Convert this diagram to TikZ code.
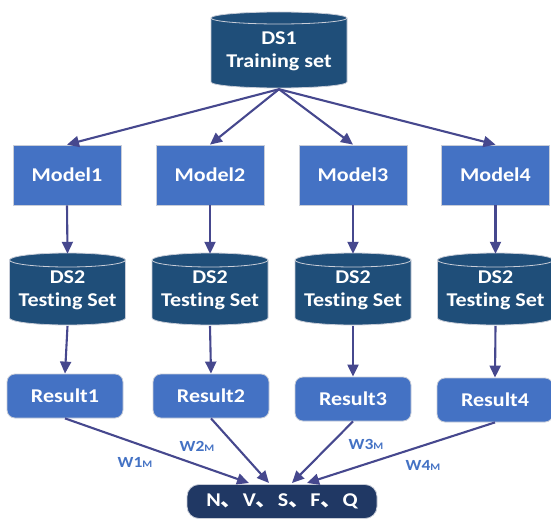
\documentclass[tikz,border=0pt]{standalone}
\usepackage{fontspec}
\usetikzlibrary{arrows.meta}
\newfontfamily\labelfont[FakeStretch=1.13, Ligatures=CommonOff]{Carlito}
\newfontfamily\cjkfont[FakeStretch=1.13]{Noto Sans CJK SC}
\definecolor{boxblue}{HTML}{4472C4}
\definecolor{drumblue}{HTML}{1F4E79}
\definecolor{navy}{HTML}{203864}
\definecolor{arrowc}{HTML}{46488E}
\definecolor{edgegray}{HTML}{C8CDD8}

% database drum: name, centre x, top y, bottom y, half width, end radius, text
\newcommand\dbdrum[7]{%
  \pgfmathsetmacro\cylL{#2-#5}\pgfmathsetmacro\cylR{#2+#5}%
  \pgfmathsetmacro\cylT{#3-#6}\pgfmathsetmacro\cylB{#4+#6}%
  \pgfmathsetmacro\cylM{(#3+#4)/2}%
  \path[drumbody] (\cylL,\cylT) -- (\cylL,\cylB)
     arc[start angle=180,end angle=360,x radius=#5,y radius=#6]
     -- (\cylR,\cylT)
     arc[start angle=0,end angle=180,x radius=#5,y radius=#6] -- cycle;
  \draw[drumrim] (\cylL,\cylT) arc[start angle=180,end angle=360,x radius=#5,y radius=#6];
  \node[drumtext, minimum width=2*#5, minimum height=#3-#4] (#1) at (#2,\cylM) {#7};
}

\begin{document}
\begin{tikzpicture}[x=1pt,y=1pt,
  lbl/.style={font=\labelfont\bfseries\fontsize{19.5}{23}\selectfont, text=white, align=center},
  drumbody/.style={fill=drumblue, draw=edgegray, line width=0.8pt},
  drumrim/.style={draw=edgegray, line width=0.8pt},
  drumtext/.style={lbl, rectangle, inner sep=0pt, yshift=-1pt},
  modelbox/.style={lbl, rectangle, fill=boxblue, draw=edgegray, line width=0.8pt,
    minimum width=108pt, minimum height=60pt},
  resbox/.style={lbl, rectangle, rounded corners=8pt, fill=boxblue, draw=edgegray,
    line width=0.8pt, minimum width=116pt, minimum height=44pt},
  outbox/.style={lbl, rectangle, rounded corners=12pt, fill=navy, draw=edgegray,
    line width=0.8pt, minimum width=190pt, minimum height=34pt},
  arr/.style={draw=arrowc, line width=2.1pt, -{Triangle[length=12pt,width=11pt]}},
  wlab/.style={font=\labelfont\bfseries\fontsize{15.5}{16}\selectfont, text=boxblue},
]
\useasboundingbox (0,0) rectangle (551,-519);

% training data
\dbdrum{ds1}{279}{-12}{-88}{68}{6}{DS1\\Training set}

% models
\node[modelbox] (m1) at (67,-175) {Model1};
\node[modelbox] (m2) at (210,-175) {Model2};
\node[modelbox] (m3) at (353,-175) {Model3};
\node[modelbox] (m4) at (495.5,-175) {Model4};

% testing data
\dbdrum{d1}{67.5}{-253}{-325}{58}{7}{DS2\\Testing Set}
\dbdrum{d2}{210}{-253}{-325}{58}{7}{DS2\\Testing Set}
\dbdrum{d3}{353}{-253}{-325}{58}{7}{DS2\\Testing Set}
\dbdrum{d4}{495.5}{-253}{-325}{58}{7}{DS2\\Testing Set}

% results
\node[resbox] (r1) at (65,-396) {Result1};
\node[resbox] (r2) at (211,-396) {Result2};
\node[resbox] (r3) at (353,-399) {Result3};
\node[resbox] (r4) at (495,-400) {Result4};

% combined output
\node[outbox] (out) at (282,-501.5) {N{\cjkfont 、}V{\cjkfont 、}S{\cjkfont 、}F{\cjkfont 、}Q};
\coordinate (t1) at (249,-483);
\coordinate (t2) at (269,-483);
\coordinate (t3) at (292,-483);
\coordinate (t4) at (307,-483);

% connectors
\foreach \i in {1,...,4} {
  \draw[arr] (ds1.south) -- (m\i.north);
  \draw[arr] (m\i.south) -- (d\i.north);
  \draw[arr] (d\i.south) -- (r\i.north);
  \draw[arr] (r\i.south) -- (t\i);
}

% weights
\node[wlab] (w1) at (135,-462) {W1{\fontsize{10}{10}\selectfont M}};
\node[wlab] (w2) at (197,-446) {W2{\fontsize{10}{10}\selectfont M}};
\node[wlab] (w3) at (366,-444) {W3{\fontsize{10}{10}\selectfont M}};
\node[wlab] (w4) at (423,-465) {W4{\fontsize{10}{10}\selectfont M}};
\end{tikzpicture}
\end{document}
